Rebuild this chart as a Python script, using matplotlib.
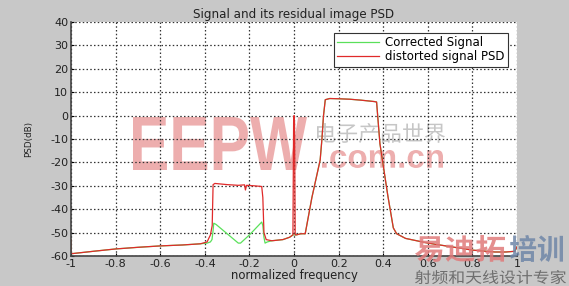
import matplotlib
matplotlib.use("Agg")
import matplotlib.pyplot as plt
from matplotlib.textpath import TextPath
from matplotlib.patches import PathPatch
from matplotlib.font_manager import FontProperties
from matplotlib.transforms import Affine2D

# ---------------------------
# Data
# ---------------------------
red_x = [-1.0, -1.0, -0.995, -0.9, -0.8, -0.7, -0.6, -0.5, -0.42, -0.39, -0.375,
         -0.367, -0.363, -0.355, -0.3, -0.25, -0.222, -0.218, -0.213, -0.18, -0.145,
         -0.14, -0.135, -0.125, -0.1, -0.05, -0.02, -0.005, -0.002, 0.0, 0.002,
         0.005, 0.01, 0.03, 0.05, 0.08, 0.117, 0.125, 0.132, 0.14, 0.16, 0.2, 0.25,
         0.3, 0.33, 0.36, 0.37, 0.385, 0.42, 0.445, 0.46, 0.5, 0.6, 0.7, 0.8,
         0.9, 0.95, 0.99, 1.0]
red_y = [-53, -58.5, -59, -58, -57, -56.3, -55.7, -55.3, -54.8, -54, -51,
         -47, -29.5, -29, -29.5, -29.8, -29.6, -31.8, -29.8, -30, -30.3,
         -35, -50, -53, -53.5, -53, -52, -51, -3, 0, -3,
         -51, -51, -50.5, -50.5, -35, -19, -10, 0, 6.8, 7.3, 7.2, 7,
         6.6, 6.3, 6, 5.8, -12, -34, -48, -50.5, -52.5, -54.5, -56, -57.5,
         -58.3, -58.3, -58, -56]

green_x = [-1.0, -1.0, -0.995, -0.9, -0.8, -0.7, -0.6, -0.5, -0.42, -0.39, -0.375,
           -0.368, -0.364, -0.36, -0.35, -0.3, -0.25, -0.24, -0.2, -0.145,
           -0.14, -0.135, -0.13, -0.12, -0.1, -0.05, -0.02, -0.005, 0.005,
           0.01, 0.03, 0.05, 0.08, 0.117, 0.125, 0.132, 0.14, 0.16, 0.2, 0.25,
           0.3, 0.33, 0.36, 0.37, 0.385, 0.42, 0.445, 0.46, 0.5, 0.6, 0.7, 0.8,
           0.9, 0.95, 0.99, 1.0]
green_y = [-53, -58.5, -59, -58, -57, -56.3, -55.7, -55.3, -54.8, -54.5, -54,
           -53, -50, -46, -46.5, -50.5, -54.5, -54.5, -51, -45.5,
           -47, -52, -54.5, -54, -53.5, -53, -52, -51, -51,
           -51, -50.5, -50.5, -35, -19, -10, 0, 6.8, 7.3, 7.2, 7,
           6.6, 6.3, 6, 5.8, -12, -34, -48, -50.5, -52.5, -54.5, -56, -57.5,
           -58.3, -58.3, -58, -56]

x_ticks = [-1, -0.8, -0.6, -0.4, -0.2, 0, 0.2, 0.4, 0.6, 0.8, 1]
x_labels = ["-1", "-0.8", "-0.6", "-0.4", "-0.2", "0", "0.2", "0.4", "0.6", "0.8", "1"]
y_ticks = [-60, -50, -40, -30, -20, -10, 0, 10, 20, 30, 40]

H = 286  # figure height in pixels


# watermark text squeezed into a box given in picture pixels (y from top)
def stamp(target, s, box, color, alpha, family, weight="bold", zorder=1):
    tp = TextPath((0, 0), s, size=1, prop=FontProperties(family=family, weight=weight))
    ext = tp.get_extents()
    x0, y0, x1, y1 = box
    sx = (x1 - x0) / ext.width
    sy = (y1 - y0) / ext.height
    tr = Affine2D().translate(-ext.x0, -ext.y0).scale(sx, sy).translate(x0, H - y1)
    patch = PathPatch(tp, transform=tr, facecolor=color, edgecolor="none",
                      alpha=alpha, zorder=zorder)
    target.add_artist(patch)


# ---------------------------
# Figure
# ---------------------------
plt.rcParams["font.family"] = ["DejaVu Sans"]
plt.rcParams["axes.unicode_minus"] = False

fig = plt.figure(figsize=(5.69, 2.86), dpi=100, facecolor="#c8c8c8")
ax = fig.add_axes([0.1248, 0.105, 0.784, 0.818])
ax.set_facecolor("white")

ax.plot(green_x, green_y, color="#5ae05a", lw=0.9, label="Corrected Signal", zorder=2)
ax.plot(red_x, red_y, color="#e02a2a", lw=0.9, label="distorted signal PSD", zorder=2.1)

ax.set_xlim(-1, 1)
ax.set_ylim(-60, 40)
ax.set_xticks(x_ticks)
ax.set_xticklabels(x_labels)
ax.set_yticks(y_ticks)
ax.tick_params(labelsize=8, length=2, width=0.8, direction="in", pad=2,
               labelcolor="#222222")

ax.grid(True, linestyle=(0, (1.2, 1.8)), color="#333333", lw=0.9)
for s in ["top", "right"]:
    ax.spines[s].set_visible(False)
for s in ["left", "bottom"]:
    ax.spines[s].set_linewidth(1.2)
    ax.spines[s].set_color("#444444")

ax.set_title("Signal and its residual image PSD", fontsize=8.6, pad=3, color="#222222")
ax.set_xlabel("normalized frequency", fontsize=8.4, labelpad=0, color="#222222")
ax.set_ylabel("PSD(dB)", fontsize=6.3, color="#222222")
ax.yaxis.set_label_coords(-0.086, 0.5)

leg = ax.legend(loc="upper right", fontsize=8.5, frameon=True, fancybox=False,
                handlelength=3.5, borderpad=0.3, labelspacing=0.1, framealpha=1,
                handletextpad=0.5, bbox_to_anchor=(0.992, 0.98))
leg.get_frame().set_edgecolor("#333333")
leg.get_frame().set_linewidth(0.8)

# ---------------------------
# Watermarks
# ---------------------------
stamp(ax, "EEPW", (133, 117, 307, 170), "#e68c8c", 0.7, ["Liberation Sans"])
stamp(ax, "电子产品世界", (317, 123, 445, 143), "#a0a0a0", 0.6,
      ["Noto Sans CJK SC"], weight="normal")
stamp(ax, ".com.cn", (322, 150, 443, 168), "#e68c8c", 0.7, ["Liberation Sans"])
stamp(fig, "易迪拓", (415, 235, 505, 262), "#e07a7a", 0.85, ["Noto Sans CJK SC"])
stamp(fig, "培训", (510, 235, 563, 262), "#6f86a8", 0.85, ["Noto Sans CJK SC"])
stamp(fig, "射频和天线设计专家", (415, 270, 566, 284), "#6e6e6e", 1.0,
      ["Noto Sans CJK SC"], weight="normal")

fig.savefig("out.png", dpi=100, facecolor=fig.get_facecolor())
